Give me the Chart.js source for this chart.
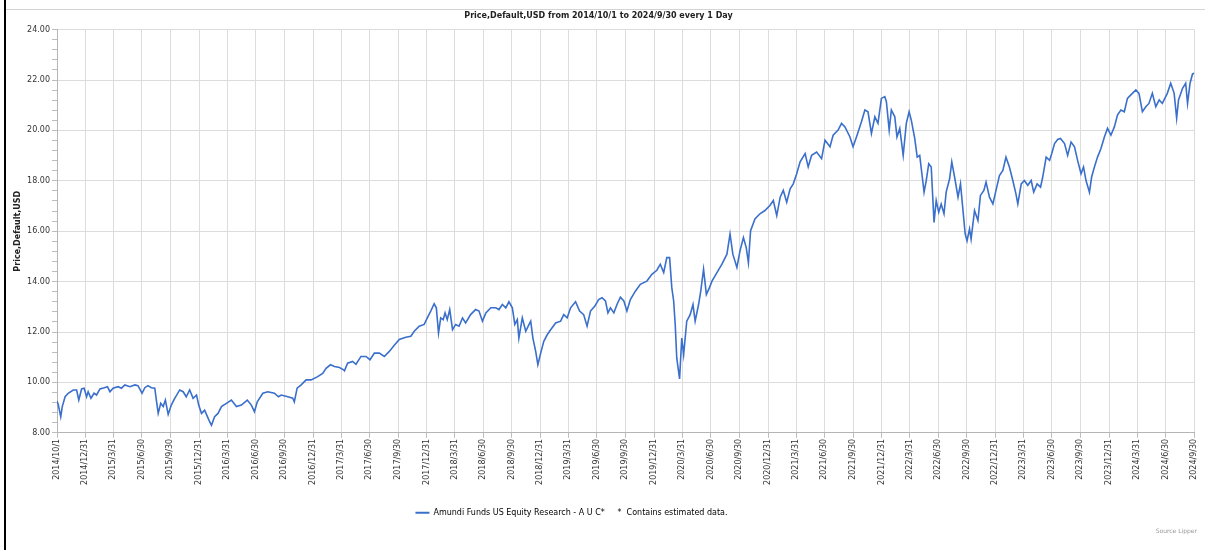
<!DOCTYPE html>
<html>
<head>
<meta charset="utf-8">
<title>Price chart</title>
<script src="https://cdn.jsdelivr.net/npm/chart.js@4.4.1/dist/chart.umd.min.js"></script>
<style>
    html, body { margin: 0; padding: 0; background: #fff; }
    #wrap { position: relative; width: 1205px; height: 550px; overflow: hidden; }
    #priceChart { position: absolute; left: 0; top: 0; }
    #frameLeft { position: absolute; left: 4px; top: 0; width: 2px; height: 550px; background: #000; }
    #frameTop { position: absolute; left: 6px; right: 0; top: 9px; height: 1px; background: #d4d4d4; }
</style>
</head>
<body>
<div id="wrap">
    <canvas id="priceChart" width="1205" height="550"></canvas>
    <div id="frameLeft"></div>
    <div id="frameTop"></div>
</div>
<script>
// days since 2014/10/1
const dayOffsets = [
    0, 4, 12, 17, 26, 36, 52, 63, 70, 79, 87, 95, 100, 109, 119, 127, 138, 152, 162, 170,
    180, 196, 207, 218, 234, 250, 260, 273, 282, 292, 303, 314, 319, 325, 333, 341, 348, 357, 367, 378,
    394, 405, 415, 426, 437, 448, 455, 464, 474, 483, 490, 496, 506, 517, 528, 544, 560, 576, 592, 611,
    624, 634, 643, 661, 677, 698, 711, 720, 741, 757, 762, 771, 784, 800, 816, 837, 853, 864, 878, 891,
    907, 920,
    923, 933, 949, 960, 976, 992, 1005, 1019, 1035, 1051, 1067, 1083, 1099, 1120, 1136, 1147, 1163, 1179, 1189, 1200,
    1211, 1218, 1225, 1232, 1240, 1246, 1253, 1261, 1270, 1280, 1291, 1302, 1312, 1328, 1344, 1355, 1366, 1377, 1393, 1409,
    1419, 1430, 1441, 1451, 1462, 1470, 1478, 1483, 1494, 1505, 1513, 1521, 1528, 1537, 1544, 1553, 1563, 1574, 1585, 1601,
    1617, 1627, 1638, 1649, 1665, 1678, 1691, 1702, 1713, 1727, 1739, 1750, 1761, 1769, 1777, 1788, 1798, 1809, 1820, 1830,
    1841, 1857, 1873, 1884, 1894, 1910, 1926, 1937, 1948, 1958, 1967, 1974, 1980, 1985, 1990, 1999, 2006, 2012, 2022, 2033,
    2042, 2049, 2060, 2067, 2076, 2085, 2095, 2103, 2119, 2135, 2151, 2161, 2170, 2183, 2193, 2204, 2213, 2220, 2227, 2241,
    2257, 2273, 2289, 2300, 2311, 2322, 2332, 2343, 2354, 2364, 2375, 2386, 2402, 2412, 2423, 2439, 2455, 2466, 2482, 2492,
    2508, 2519, 2530, 2546, 2556, 2567, 2583, 2594, 2604, 2615, 2626, 2636, 2647, 2658, 2663, 2672, 2679, 2690, 2697, 2706,
    2717, 2727, 2736,
    2743, 2754, 2762, 2770, 2777, 2784, 2791, 2799, 2807, 2816, 2823, 2831, 2839, 2848, 2855, 2866, 2873, 2882, 2893, 2901,
    2909, 2916, 2922, 2930, 2935, 2946, 2957, 2965, 2976, 2983, 2994, 3005, 3015, 3026, 3037, 3047, 3058, 3069, 3079, 3085,
    3096, 3106, 3117, 3128, 3136, 3147, 3158, 3165, 3176, 3187, 3194, 3203, 3213, 3222, 3235, 3245, 3256, 3267, 3277, 3288,
    3296, 3304, 3315, 3322, 3331, 3341, 3352, 3363, 3373, 3384, 3395, 3405, 3416, 3427, 3437, 3448, 3464, 3474, 3485, 3496,
    3506, 3517, 3528, 3539, 3549, 3565, 3576, 3587, 3595, 3601, 3614, 3624, 3630, 3638, 3646, 3652
];

// price in USD at each of those days
const prices = [
    9.26, 9.12, 8.64, 9.04, 9.43, 9.57, 9.70, 9.70, 9.30, 9.74, 9.77, 9.43, 9.63, 9.37, 9.57, 9.50, 9.74, 9.79, 9.83, 9.63,
    9.77, 9.83, 9.77, 9.90, 9.83, 9.90, 9.87, 9.57, 9.79, 9.87, 9.79, 9.77, 9.30, 8.77, 9.17, 9.04, 9.30, 8.73, 9.10, 9.37,
    9.70, 9.63, 9.43, 9.70, 9.37, 9.50, 9.10, 8.77, 8.90, 8.64, 8.44, 8.30, 8.64, 8.77, 9.04, 9.17, 9.30, 9.04, 9.10, 9.30,
    9.10, 8.84, 9.23, 9.57, 9.63, 9.57, 9.43, 9.50, 9.43, 9.37, 9.23, 9.77, 9.90, 10.10, 10.10, 10.23, 10.36, 10.56, 10.70, 10.63,
    10.59, 10.50,
    10.46, 10.76, 10.83, 10.72, 11.03, 11.03, 10.90, 11.16, 11.16, 11.03, 11.23, 11.47, 11.70, 11.79, 11.83, 12.03, 12.23, 12.30, 12.56, 12.83,
    13.12, 12.96, 11.96, 12.56, 12.49, 12.76, 12.49, 12.89, 12.09, 12.30, 12.23, 12.56, 12.36, 12.69, 12.89, 12.83, 12.43, 12.76, 12.96, 12.96,
    12.89, 13.09, 12.96, 13.20, 12.96, 12.30, 12.49, 11.76, 12.56, 12.03, 12.23, 12.43, 11.76, 11.23, 10.70, 11.16, 11.63, 11.89, 12.09, 12.36,
    12.43, 12.69, 12.56, 12.96, 13.20, 12.83, 12.69, 12.23, 12.83, 13.03, 13.29, 13.36, 13.23, 12.76, 12.96, 12.76, 13.09, 13.38, 13.23, 12.83,
    13.29, 13.62, 13.89, 13.96, 14.02, 14.29, 14.45, 14.69, 14.36, 14.95, 14.95, 13.76, 13.23, 12.30, 10.96, 10.14, 11.76, 11.10, 12.43, 12.69,
    13.09, 12.43, 13.09, 13.62, 14.49, 13.49, 13.76, 14.02, 14.36, 14.69, 15.09, 15.89, 15.09, 14.56, 15.22, 15.75, 15.35, 14.75, 16.02, 16.49,
    16.69, 16.82, 17.02, 17.22, 16.62, 17.35, 17.62, 17.15, 17.68, 17.88, 18.28, 18.75, 19.08, 18.55, 19.01, 19.14, 18.88, 19.61, 19.35, 19.81,
    20.01, 20.28, 20.14, 19.74, 19.35, 19.74, 20.34, 20.81, 20.74, 19.88, 20.54, 20.28, 21.27, 21.34, 21.14, 20.01, 20.81, 20.54, 19.74, 20.08,
    19.01, 20.28, 20.74,
    20.41, 19.68, 18.94, 19.01, 18.28, 17.55, 18.01, 18.68, 18.55, 16.35, 17.22, 16.75, 17.08, 16.69, 17.55, 18.08, 18.75, 18.15, 17.35, 17.88,
    16.82, 15.89, 15.62, 16.09, 15.69, 16.82, 16.42, 17.42, 17.62, 17.95, 17.35, 17.08, 17.62, 18.21, 18.41, 18.94, 18.55, 18.01, 17.48, 17.08,
    17.88, 18.01, 17.82, 18.01, 17.55, 17.88, 17.75, 18.15, 18.94, 18.81, 19.08, 19.48, 19.64, 19.68, 19.48, 19.01, 19.54, 19.35, 18.81, 18.28,
    18.55, 18.01, 17.55, 18.15, 18.55, 18.94, 19.28, 19.74, 20.08, 19.81, 20.14, 20.61, 20.81, 20.74, 21.27, 21.41, 21.61, 21.47, 20.74, 20.94,
    21.07, 21.47, 20.94, 21.21, 21.07, 21.47, 21.87, 21.47, 20.48, 21.21, 21.67, 21.87, 21.07, 21.87, 22.24, 22.27
];

// x axis tick labels (quarter ends)
const tickDates = [
    '2014/10/1', '2014/12/31',
    '2015/3/31', '2015/6/30', '2015/9/30', '2015/12/31',
    '2016/3/31', '2016/6/30', '2016/9/30', '2016/12/31',
    '2017/3/31', '2017/6/30', '2017/9/30', '2017/12/31',
    '2018/3/31', '2018/6/30', '2018/9/30', '2018/12/31',
    '2019/3/31', '2019/6/30', '2019/9/30', '2019/12/31',
    '2020/3/31', '2020/6/30', '2020/9/30', '2020/12/31',
    '2021/3/31', '2021/6/30', '2021/9/30', '2021/12/31',
    '2022/3/31', '2022/6/30', '2022/9/30', '2022/12/31',
    '2023/3/31', '2023/6/30', '2023/9/30', '2023/12/31',
    '2024/3/31', '2024/6/30', '2024/9/30'
];

// y axis: labelled every 2.00, small ticks every 0.40
const yMin = 8;
const yMax = 24;
const yLabelStep = 2;
const yMinorStep = 0.4;

const seriesName = 'Amundi Funds US Equity Research - A U C*';
const footNote = '*  Contains estimated data.';
const lineColor = '#3a6fcb';
const fontFamily = '"DejaVu Sans", Verdana, sans-serif';

const startUtc = Date.UTC(2014, 9, 1);
function dayOf(str) {
    const p = str.split('/').map(Number);
    return Math.round((Date.UTC(p[0], p[1] - 1, p[2]) - startUtc) / 86400000);
}
const tickDays = tickDates.map(dayOf);

const yTicks = [];
for (let i = 0; i <= Math.round((yMax - yMin) / yMinorStep); i++) {
    yTicks.push(+(yMin + i * yMinorStep).toFixed(2));
}
function isLabelTick(v) {
    const r = v / yLabelStep;
    return Math.abs(r - Math.round(r)) < 1e-6;
}

// the legend sits a little left of the page centre in the original
const legendNudge = {
    id: 'legendNudge',
    afterLayout(chart) {
        const lg = chart.legend;
        if (!lg) return;
        lg.left -= 27;
        lg.right -= 27;
        lg.top += 3;
        lg.bottom += 3;
    }
};

const ctx = document.getElementById('priceChart').getContext('2d');
const chart = new Chart(ctx, {
    type: 'line',
    data: {
        datasets: [{
            label: seriesName,
            data: dayOffsets.map((d, i) => ({ x: d, y: prices[i] })),
            borderColor: lineColor,
            backgroundColor: lineColor,
            borderWidth: 1.6,
            pointRadius: 0,
            tension: 0,
            fill: false
        }]
    },
    plugins: [legendNudge],
    options: {
        responsive: false,
        animation: false,
        layout: {
            padding: { top: 0, right: 8, bottom: 0, left: 0 }
        },
        plugins: {
            title: {
                display: true,
                text: 'Price,Default,USD from 2014/10/1 to 2024/9/30 every 1 Day',
                color: '#222',
                font: { family: fontFamily, size: 8, weight: 'bold' },
                padding: { top: 11, bottom: 9 }
            },
            subtitle: {
                display: true,
                position: 'bottom',
                align: 'end',
                text: 'Source Lipper',
                color: '#9a9a9a',
                font: { family: fontFamily, size: 6 },
                padding: { top: 4, bottom: 15 }
            },
            legend: {
                position: 'bottom',
                labels: {
                    color: '#333',
                    font: { family: fontFamily, size: 8 },
                    boxWidth: 14,
                    boxHeight: 2,
                    padding: 10,
                    generateLabels: function() {
                        return [{
                            text: seriesName + '     ' + footNote,
                            fillStyle: lineColor,
                            strokeStyle: lineColor,
                            lineWidth: 0,
                            hidden: false,
                            datasetIndex: 0
                        }];
                    }
                }
            },
            tooltip: { enabled: false }
        },
        scales: {
            x: {
                type: 'linear',
                min: 0,
                max: tickDays[tickDays.length - 1],
                afterBuildTicks: function(scale) {
                    scale.ticks = tickDays.map(v => ({ value: v }));
                },
                afterFit: function(scale) {
                    scale.height = 63;
                },
                grid: {
                    color: '#dcdcdc',
                    tickColor: '#bdbdbd',
                    tickLength: 5
                },
                border: { color: '#b5b5b5' },
                ticks: {
                    autoSkip: false,
                    minRotation: 90,
                    maxRotation: 90,
                    padding: 1,
                    color: '#333',
                    font: { family: fontFamily, size: 8 },
                    callback: function(value, index) {
                        return tickDates[index];
                    }
                }
            },
            y: {
                min: yMin,
                max: yMax,
                afterBuildTicks: function(scale) {
                    scale.ticks = yTicks.map(v => ({ value: v }));
                },
                afterFit: function(scale) {
                    scale.width = 57;
                },
                grid: {
                    color: function(c) {
                        return c.tick && isLabelTick(c.tick.value) ? '#dcdcdc' : 'rgba(0,0,0,0)';
                    },
                    tickColor: '#bdbdbd',
                    tickLength: 5
                },
                border: { color: '#b5b5b5' },
                title: {
                    display: true,
                    text: 'Price,Default,USD',
                    color: '#222',
                    font: { family: fontFamily, size: 8, weight: 'bold' },
                    padding: { top: 13, bottom: 0 }
                },
                ticks: {
                    autoSkip: false,
                    padding: 2,
                    color: '#333',
                    font: { family: fontFamily, size: 8 },
                    callback: function(value) {
                        return isLabelTick(value) ? value.toFixed(2) : '';
                    }
                }
            }
        }
    }
});
</script>
</body>
</html>
